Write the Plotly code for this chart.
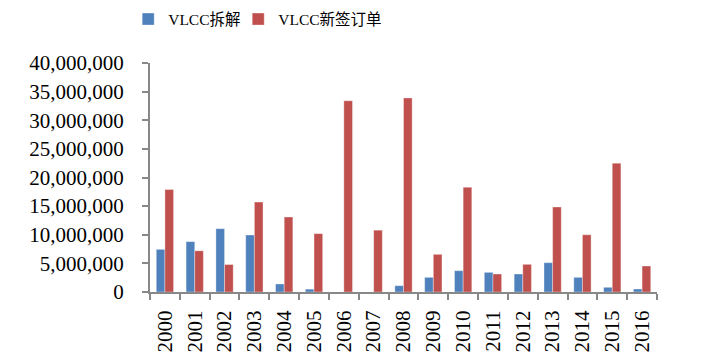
import plotly.graph_objects as go

years = [str(y) for y in range(2000, 2017)]
scrapped = [7.45e6, 8.8e6, 11.06e6, 9.96e6, 1.4e6, 0.5e6, 0, 0, 1.1e6, 2.56e6,
            3.72e6, 3.43e6, 3.14e6, 5.12e6, 2.56e6, 0.82e6, 0.52e6]
orders = [17.9e6, 7.2e6, 4.8e6, 15.7e6, 13.1e6, 10.2e6, 33.4e6, 10.8e6, 33.9e6, 6.58e6,
          18.3e6, 3.14e6, 4.83e6, 14.85e6, 10.0e6, 22.5e6, 4.54e6]
names = ["VLCC拆解", "VLCC新签订单"]
yticks = [0, 5e6, 10e6, 15e6, 20e6, 25e6, 30e6, 35e6, 40e6]
ytick_text = ["0", "5,000,000", "10,000,000", "15,000,000", "20,000,000",
              "25,000,000", "30,000,000", "35,000,000", "40,000,000"]

font_family = "Liberation Serif, Noto Sans CJK SC, serif"

fig = go.Figure()
fig.add_trace(go.Bar(x=years, y=scrapped, name=names[0], legend="legend", showlegend=True,
                     marker=dict(color="#4F81BD", line=dict(color="rgba(255,255,255,0.35)", width=1))))
fig.add_trace(go.Bar(x=years, y=orders, name=names[1], legend="legend2", showlegend=True,
                     marker=dict(color="#C0504D", line=dict(color="rgba(255,255,255,0.35)", width=1))))

legend_common = dict(orientation="h", xanchor="left", y=1.19, yanchor="middle",
                     font=dict(size=15.5, family=font_family), bgcolor="rgba(0,0,0,0)")

fig.update_layout(
    width=707, height=359, showlegend=True,
    margin=dict(l=142, r=58, t=55, b=75, autoexpand=False),
    paper_bgcolor="white", plot_bgcolor="white",
    barmode="group", bargap=0.42, bargroupgap=0,
    font=dict(family=font_family, color="black"),
    legend=dict(x=-0.043, visible=True, **legend_common),
    legend2=dict(x=0.174, visible=True, **legend_common),
    xaxis=dict(type="category", showline=True, linecolor="#888888", linewidth=2,
               ticks="outside", tickson="boundaries", ticklen=6, tickcolor="#888888",
               tickwidth=2, tickangle=-90, tickfont=dict(size=21), showgrid=False,
               automargin=False, ticklabelstandoff=8),
    yaxis=dict(range=[0, 40e6], tickvals=yticks, ticktext=ytick_text,
               showline=True, linecolor="#888888", linewidth=2,
               ticks="outside", ticklen=6, tickcolor="#888888", tickwidth=2,
               tickfont=dict(size=21), showgrid=False, zeroline=False,
               automargin=False, ticklabelstandoff=14),
)

fig.write_html("out.html")
